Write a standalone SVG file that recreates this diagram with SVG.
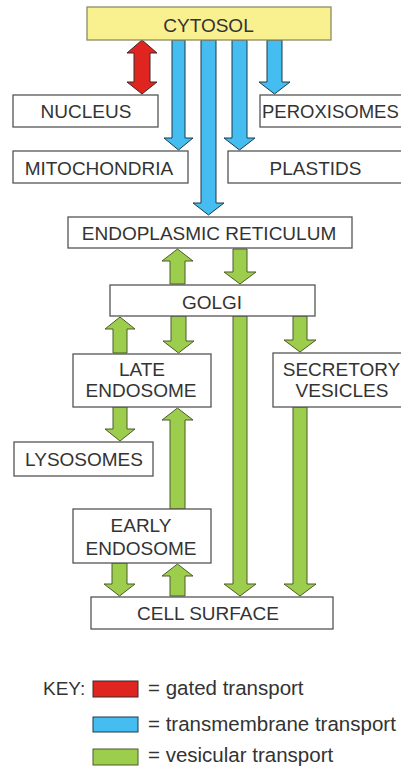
<svg xmlns="http://www.w3.org/2000/svg" width="401" height="767" viewBox="0 0 401 767">
<style>
.box{fill:#fff;stroke:#555;stroke-width:1.3}
.lbl{font-family:"Liberation Sans",Arial,sans-serif;font-size:19px;fill:#333;text-anchor:middle}
.key{font-family:"Liberation Sans",Arial,sans-serif;font-size:20.5px;fill:#333}
.red{fill:#e02420;stroke:#3a2a2a;stroke-width:1}
.blue{fill:#45bdf0;stroke:#1d3a48;stroke-width:1}
.green{fill:#9ccd4c;stroke:#4d5a2a;stroke-width:1}
</style>
<rect width="401" height="767" fill="#fff"/>
<g id="connectors">
<path class="red" d="M142,40 L157,53 L150,53 L150,82 L157,82 L142,94 L127,82 L134,82 L134,53 L127,53 Z"/>
<path class="blue" d="M172,40 L185,40 L185,138 L193,138 L178.5,150 L164,138 L172,138 Z"/>
<path class="blue" d="M201,40 L216,40 L216,203 L224,203 L208.5,215 L193,203 L201,203 Z"/>
<path class="blue" d="M232,40 L247,40 L247,138 L255,138 L239.5,150 L224,138 L232,138 Z"/>
<path class="blue" d="M267,40 L282,40 L282,82 L290,82 L274.5,94 L259,82 L267,82 Z"/>
<path class="green" d="M170,284 L185,284 L185,261 L193,261 L177.5,249 L162,261 L170,261 Z"/>
<path class="green" d="M233,249 L247,249 L247,272 L256,272 L240,284 L224,272 L233,272 Z"/>
<path class="green" d="M113,353 L127,353 L127,329 L135,329 L120,317 L105,329 L113,329 Z"/>
<path class="green" d="M171,316 L186,316 L186,341 L194,341 L178.5,353 L163,341 L171,341 Z"/>
<path class="green" d="M233,316 L247,316 L247,584 L256,584 L240,596 L224,584 L233,584 Z"/>
<path class="green" d="M293,316 L307,316 L307,340 L316,340 L300,352 L284,340 L293,340 Z"/>
<path class="green" d="M113,407 L127,407 L127,429 L135,429 L120,441 L105,429 L113,429 Z"/>
<path class="green" d="M170,509 L185,509 L185,420 L193,420 L177.5,408 L162,420 L170,420 Z"/>
<path class="green" d="M293,407 L307,407 L307,584 L316,584 L300,596 L284,584 L293,584 Z"/>
<path class="green" d="M112,563 L127,563 L127,584 L135,584 L119.5,596 L104,584 L112,584 Z"/>
<path class="green" d="M170,596 L185,596 L185,576 L193,576 L177.5,564 L162,576 L170,576 Z"/>
</g>
<g id="cytosol">
<rect x="87" y="7" width="244" height="33" fill="#f9f08f" stroke="#8a8a6a" stroke-width="1.3"/>
<text class="lbl" x="208.5" y="32">CYTOSOL</text>
</g>
<g id="nucleus">
<rect class="box" x="13" y="95" width="145" height="32"/>
<text class="lbl" x="86" y="118">NUCLEUS</text>
</g>
<g id="peroxisomes">
<rect class="box" x="260" y="95" width="150" height="32"/>
<text class="lbl" x="262" y="118" style="text-anchor:start;font-size:18.5px">PEROXISOMES</text>
</g>
<g id="mitochondria">
<rect class="box" x="13" y="151" width="175" height="32"/>
<text class="lbl" x="99" y="175">MITOCHONDRIA</text>
</g>
<g id="plastids">
<rect class="box" x="228" y="151" width="182" height="32"/>
<text class="lbl" x="315.5" y="175">PLASTIDS</text>
</g>
<g id="er">
<rect class="box" x="68" y="217" width="284" height="31"/>
<text class="lbl" x="209" y="240">ENDOPLASMIC RETICULUM</text>
</g>
<g id="golgi">
<rect class="box" x="110" y="285" width="205" height="31"/>
<text class="lbl" x="212" y="309">GOLGI</text>
</g>
<g id="late-endosome">
<rect class="box" x="73" y="354" width="138" height="53"/>
<text class="lbl" x="142" y="376">LATE</text>
<text class="lbl" x="141" y="397">ENDOSOME</text>
</g>
<g id="secretory-vesicles">
<rect class="box" x="273" y="353" width="140" height="54"/>
<text class="lbl" x="341.5" y="376">SECRETORY</text>
<text class="lbl" x="342" y="397">VESICLES</text>
</g>
<g id="lysosomes">
<rect class="box" x="14" y="442" width="139" height="34"/>
<text class="lbl" x="84" y="466">LYSOSOMES</text>
</g>
<g id="early-endosome">
<rect class="box" x="73" y="509" width="138" height="54"/>
<text class="lbl" x="141" y="532">EARLY</text>
<text class="lbl" x="141" y="555">ENDOSOME</text>
</g>
<g id="cell-surface">
<rect class="box" x="91" y="597" width="242" height="32"/>
<text class="lbl" x="208" y="620">CELL SURFACE</text>
</g>
<g id="key">
<text class="key" x="43" y="695" style="font-size:19px">KEY:</text>
<rect class="red" x="93" y="681" width="45" height="16"/>
<text class="key" x="148" y="695">= gated transport</text>
<rect class="blue" x="93" y="717" width="45" height="15"/>
<text class="key" x="148" y="731">= transmembrane transport</text>
<rect class="green" x="93" y="749" width="45" height="16"/>
<text class="key" x="148" y="762">= vesicular transport</text>
</g>
</svg>
